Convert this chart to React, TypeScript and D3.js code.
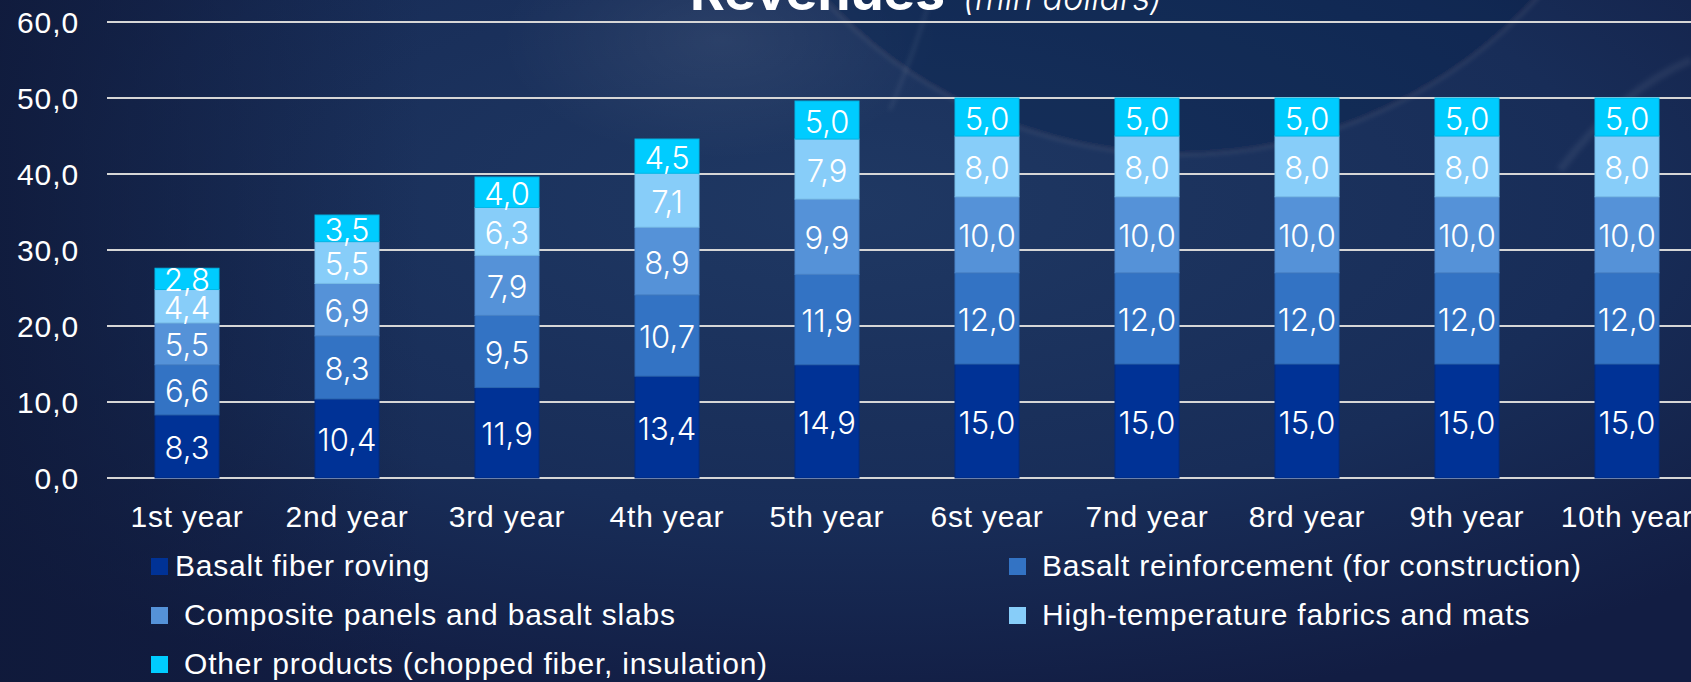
import React, { useEffect } from "react";
import * as d3 from "d3";

const categories = ["1st year", "2nd year", "3rd year", "4th year", "5th year", "6st year", "7nd year", "8rd year", "9th year", "10th year"];
const roving = [8.3, 10.4, 11.9, 13.4, 14.9, 15.0, 15.0, 15.0, 15.0, 15.0];
const reinforcement = [6.6, 8.3, 9.5, 10.7, 11.9, 12.0, 12.0, 12.0, 12.0, 12.0];
const panels = [5.5, 6.9, 7.9, 8.9, 9.9, 10.0, 10.0, 10.0, 10.0, 10.0];
const fabrics = [4.4, 5.5, 6.3, 7.1, 7.9, 8.0, 8.0, 8.0, 8.0, 8.0];
const other = [2.8, 3.5, 4.0, 4.5, 5.0, 5.0, 5.0, 5.0, 5.0, 5.0];
const seriesNames = [
  "Basalt fiber roving",
  "Basalt reinforcement (for construction)",
  "Composite panels and basalt slabs",
  "High-temperature fabrics and mats",
  "Other products (chopped fiber, insulation)",
];
const yTicks = [0, 10, 20, 30, 40, 50, 60];
const colors = ["#003296", "#3373c4", "#5592d8", "#87cdf9", "#00ccff"];
const strokeColors = ["#002a80", "#2c66b0", "#4a84c8", "#79bde8", "#00b8e8"];

const W = 1691;
const H = 682;

const locale = d3.formatLocale({ decimal: ",", thousands: " ", grouping: [3], currency: ["", ""] });
const fmt = locale.format(".1f");

export default function App() {
  useEffect(() => {
    document.body.style.margin = "0";
  }, []);

  const seriesArrays = [roving, reinforcement, panels, fabrics, other];
  const keys = ["s0", "s1", "s2", "s3", "s4"];
  const rows = categories.map((c, i) => {
    const r: any = { cat: c };
    keys.forEach((k, j) => (r[k] = seriesArrays[j][i]));
    return r;
  });
  const stacked = d3.stack().keys(keys)(rows);

  const x = d3.scaleBand().domain(categories).range([107, 1707]).paddingInner(0.6).paddingOuter(0.3);
  const y = d3.scaleLinear().domain([0, 60]).range([478, 22]);

  const arial = "'Liberation Sans', Arial, sans-serif";
  const mont = "Inter, 'Noto Sans', sans-serif";

  const legend = [
    { i: 0, x: 151, row: 0, tx: 175 },
    { i: 1, x: 1009, row: 0, tx: 1042 },
    { i: 2, x: 151, row: 1, tx: 184 },
    { i: 3, x: 1009, row: 1, tx: 1042 },
    { i: 4, x: 151, row: 2, tx: 184 },
  ];

  return (
    <svg width={W} height={H} style={{ display: "block" }}>
      <defs>
        <radialGradient id="bg" cx="0.5" cy="0.3" r="0.75">
          <stop offset="0" stopColor="#1f3863" />
          <stop offset="0.6" stopColor="#182d58" />
          <stop offset="1" stopColor="#121d43" />
        </radialGradient>
        <linearGradient id="bgL" x1="0" x2="1" y1="0" y2="0">
          <stop offset="0" stopColor="#0f1939" stopOpacity="0.8" />
          <stop offset="0.25" stopColor="#0f1939" stopOpacity="0" />
          <stop offset="1" stopColor="#0f1939" stopOpacity="0" />
        </linearGradient>
        <radialGradient id="wash" cx="0.5" cy="0.5" r="0.5">
          <stop offset="0" stopColor="#ffffff" stopOpacity="0.07" />
          <stop offset="1" stopColor="#ffffff" stopOpacity="0" />
        </radialGradient>
        <filter id="blur" x="-20%" y="-20%" width="140%" height="140%">
          <feGaussianBlur stdDeviation="2" />
        </filter>
      </defs>
      <rect x={0} y={0} width={W} height={H} fill="url(#bg)" />
      <rect x={0} y={0} width={W} height={H} fill="url(#bgL)" />
      <ellipse cx={720} cy={40} rx={220} ry={120} fill="url(#wash)" />
      <circle cx={1180} cy={-330} r={485} fill="#0f1e48" fillOpacity={0.3} stroke="#ffffff" strokeOpacity={0.05} strokeWidth={4} filter="url(#blur)" />
      <path d="M930,0 Q915,50 890,110" stroke="#ffffff" strokeOpacity={0.08} strokeWidth={3} fill="none" filter="url(#blur)" />
      <path d="M1691,60 Q1620,90 1560,170" stroke="#ffffff" strokeOpacity={0.06} strokeWidth={8} fill="none" filter="url(#blur)" />

      {/* title */}
      <text x={690} y={10} fill="#ffffff" fontFamily={mont} fontWeight={700} fontSize={50} textLength={255} lengthAdjust="spacingAndGlyphs">Revenues</text>
      <text x={963} y={10} fill="#ffffff" fontFamily={mont} fontWeight={300} fontStyle="italic" fontSize={36} textLength={199} lengthAdjust="spacingAndGlyphs">(mln dollars)</text>

      {/* gridlines */}
      {yTicks.map((t) => (
        <g key={t}>
          <line x1={107} x2={W} y1={y(t)} y2={y(t)} stroke="#d6d6d6" strokeWidth={2} />
          <text x={79} y={y(t)} dominantBaseline="central" textAnchor="end" fill="#ffffff" fontFamily={arial} fontSize={30} letterSpacing={0.9}>{fmt(t)}</text>
        </g>
      ))}

      {/* bars */}
      {stacked.map((s, si) => (
        <g key={si}>
          {s.map((d, di) => (
            <rect key={di} x={x(categories[di])} y={y(d[1])} width={x.bandwidth()} height={y(d[0]) - y(d[1])} fill={colors[si]} stroke={strokeColors[si]} strokeWidth={1} />
          ))}
        </g>
      ))}
      {stacked.map((s, si) => (
        <g key={"l" + si}>
          {s.map((d, di) => (
            <text key={di} x={(x(categories[di]) as number) + x.bandwidth() / 2} y={(y(d[0]) + y(d[1])) / 2 + 1} textAnchor="middle" dominantBaseline="central" fill="#ffffff" fontFamily={mont} fontWeight={300} fontSize={31}>
              {fmt(seriesArrays[si][di])}
            </text>
          ))}
        </g>
      ))}

      {/* x labels */}
      {categories.map((c) => (
        <text key={c} x={(x(c) as number) + x.bandwidth() / 2} y={527} textAnchor="middle" fill="#ffffff" fontFamily={arial} fontSize={30} letterSpacing={0.8}>{c}</text>
      ))}

      {/* legend */}
      {legend.map((l) => (
        <g key={l.i}>
          <rect x={l.x} y={558 + l.row * 49} width={17} height={17} fill={colors[l.i]} />
          <text x={l.tx} y={576 + l.row * 49} fill="#ffffff" fontFamily={arial} fontSize={30} letterSpacing={0.8}>{seriesNames[l.i]}</text>
        </g>
      ))}
    </svg>
  );
}
